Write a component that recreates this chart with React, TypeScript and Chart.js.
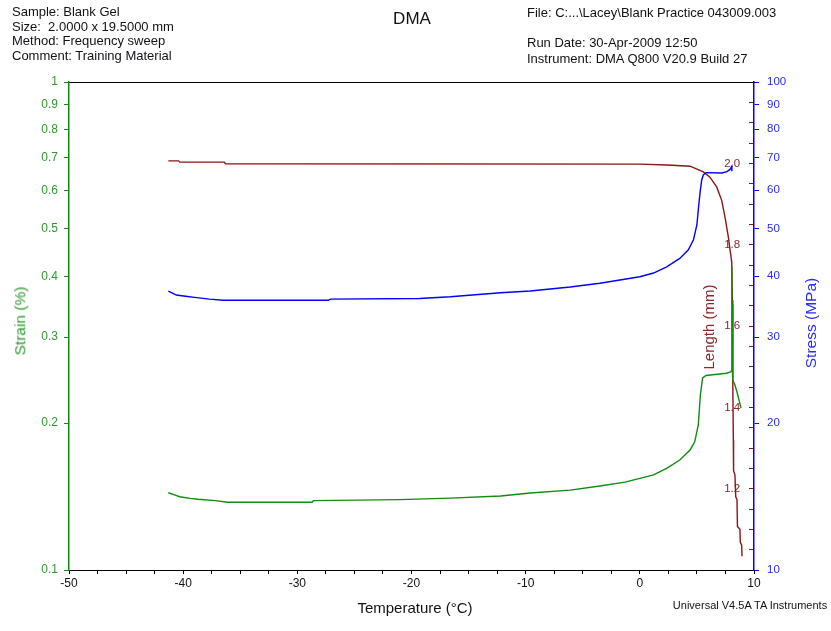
import React, { useEffect, useRef } from 'react';
import { Chart, registerables } from 'chart.js';

Chart.register(...registerables);

const FONT = '"Liberation Sans", Arial, Helvetica, sans-serif';
const GREEN = '#108c10';
const GREEN_TEXT = '#2f9a2f';
const BLUE = '#0000ff';
const BLUE_TEXT = '#2b2bff';
const RED = '#8c1515';
const RED_TEXT = '#8c2a2a';
const DARK = '#111118';

// Strain (%) against temperature (°C)
const strainTemp = [
  -41.3, -40.7, -40.3, -39.4, -38.7, -37.2, -36.1, -28.7, -28.6, -21.0, -16.6, -12.2, -9.6, -6.1,
  -3.5, -1.3, 0.0, 1.2, 2.35, 3.5, 4.4, 4.8, 5.12, 5.3, 5.5, 5.8, 7.6, 7.95, 8.03, 8.06, 8.09,
  8.12, 8.16, 8.33, 8.51, 8.68, 8.86,
];
const strainValues = [
  0.144, 0.1424, 0.1413, 0.1402, 0.1396, 0.1387, 0.1377, 0.1377, 0.1387, 0.1394, 0.1404, 0.1418,
  0.1438, 0.1458, 0.1486, 0.1514, 0.1541, 0.1566, 0.1616, 0.168, 0.1762, 0.1829, 0.1982, 0.2284,
  0.2475, 0.2504, 0.253, 0.2545, 0.256, 0.418, 0.26, 0.35, 0.245, 0.2394, 0.2316, 0.2231, 0.2148,
];

// Stress (MPa) against temperature (°C)
const stressTemp = [
  -41.3, -40.6, -39.8, -39.0, -37.7, -36.5, -27.3, -27.1, -19.3, -16.6, -12.2, -9.6, -6.1, -3.5,
  0.0, 1.2, 2.35, 3.5, 4.25, 4.7, 5.0, 5.12, 5.27, 5.42, 5.56, 5.8, 7.2, 7.63, 7.9, 8.05, 8.06,
];
const stressValues = [
  37.3, 36.6, 36.4, 36.2, 35.9, 35.7, 35.7, 35.9, 36.0, 36.3, 37.0, 37.3, 38.0, 38.7, 39.9, 40.6,
  41.8, 43.5, 45.3, 47.5, 51.0, 54.7, 59.2, 63.0, 64.5, 65.2, 65.1, 65.5, 66.2, 67.1, 65.6,
];

// Sample length (mm) against temperature (°C)
const lengthTemp = [
  -41.3, -40.4, -40.3, -36.4, -36.3, 0.0, 2.4, 4.4, 5.56, 6.14, 6.73, 7.17, 7.46, 7.75, 7.9, 8.05,
  8.1, 8.14, 8.19, 8.21, 8.33, 8.4, 8.51, 8.55, 8.77, 8.8, 8.92, 8.95,
];
const lengthValues = [
  2.006, 2.006, 2.003, 2.003, 1.999, 1.998, 1.996, 1.993, 1.979, 1.966, 1.942, 1.909, 1.868, 1.819,
  1.787, 1.757, 1.664, 1.467, 1.32, 1.244, 1.234, 1.18, 1.173, 1.107, 1.1, 1.068, 1.061, 1.034,
];

// Axis ticks
const tempTicks = [
  -50, -47.5, -45, -42.5, -40, -37.5, -35, -32.5, -30, -27.5, -25, -22.5, -20, -17.5, -15, -12.5,
  -10, -7.5, -5, -2.5, 0, 2.5, 5, 7.5, 10,
];
const tempLabels = [-50, -40, -30, -20, -10, 0, 10];
const strainTicks = [0.1, 0.2, 0.3, 0.4, 0.5, 0.6, 0.7, 0.8, 0.9, 1];
const stressTicks = [10, 20, 30, 40, 50, 60, 70, 80, 90, 100];
const lengthTicks = [
  1.0, 1.05, 1.1, 1.15, 1.2, 1.25, 1.3, 1.35, 1.4, 1.45, 1.5, 1.55, 1.6, 1.65, 1.7, 1.75, 1.8,
  1.85, 1.9, 1.95, 2.0, 2.05, 2.1, 2.15, 2.2,
];
const lengthLabels = [1.2, 1.4, 1.6, 1.8, 2.0];

const headerLeft = [
  'Sample: Blank Gel',
  'Size:  2.0000 x 19.5000 mm',
  'Method: Frequency sweep',
  'Comment: Training Material',
];
const headerRight = [
  'File: C:...\\Lacey\\Blank Practice 043009.003',
  '',
  'Run Date: 30-Apr-2009 12:50',
  'Instrument: DMA Q800 V20.9 Build 27',
];

// the inner length axis sits on the right frame edge; its labels are right-aligned
// to that edge, so a trailing em space keeps them clear of the tick marks
const LABEL_GAP = '\u2003\u2009';

const toPoints = (xs: number[], ys: number[]) => xs.map((x, i) => ({ x, y: ys[i] }));
const setTicks = (values: number[]) => (scale: any) => {
  scale.ticks = values.map((value) => ({ value }));
};

type TextProps = {
  x: number;
  y: number;
  text: string;
  size: number;
  color: string;
  rotate?: boolean;
  center?: boolean;
};

function Text({ x, y, text, size, color, rotate, center }: TextProps) {
  const transform = rotate
    ? 'translate(-50%, -50%) rotate(-90deg)'
    : center
    ? 'translate(-50%, -50%)'
    : 'translateY(-50%)';
  return (
    <div
      style={{
        position: 'absolute',
        left: x,
        top: y,
        transform,
        fontSize: size,
        lineHeight: 1,
        color,
        whiteSpace: 'pre',
        fontFamily: FONT,
        pointerEvents: 'none',
      }}
    >
      {text}
    </div>
  );
}

export default function App() {
  const canvasRef = useRef<HTMLCanvasElement>(null);

  useEffect(() => {
    const canvas = canvasRef.current;
    if (!canvas) return;
    const tickFont = { family: FONT, size: 11.5 };
    const line = { showLine: true, pointRadius: 0, borderWidth: 1.4, fill: false, tension: 0 };

    const chart = new Chart(canvas, {
      type: 'scatter',
      data: {
        datasets: [
          {
            label: 'Stress',
            data: toPoints(stressTemp, stressValues),
            yAxisID: 'yStress',
            borderColor: BLUE,
            backgroundColor: BLUE,
            ...line,
          },
          {
            label: 'Strain',
            data: toPoints(strainTemp, strainValues),
            yAxisID: 'y',
            borderColor: GREEN,
            backgroundColor: GREEN,
            ...line,
          },
          {
            label: 'Length',
            data: toPoints(lengthTemp, lengthValues),
            yAxisID: 'yLength',
            borderColor: RED,
            backgroundColor: RED,
            ...line,
          },
        ],
      },
      options: {
        responsive: false,
        animation: false,
        devicePixelRatio: 1,
        layout: { padding: 0 },
        plugins: {
          legend: { display: false },
          tooltip: { enabled: false },
          title: { display: false },
        },
        scales: {
          x: {
            type: 'linear',
            position: 'bottom',
            min: -50,
            max: 10,
            afterBuildTicks: setTicks(tempTicks),
            afterFit: (s: any) => {
              s.height = 61;
            },
            ticks: {
              autoSkip: false,
              maxRotation: 0,
              padding: 2,
              color: DARK,
              font: { family: FONT, size: 12 },
              callback: (v: any) => (tempLabels.includes(Number(v)) ? String(v) : ''),
            },
            grid: { drawOnChartArea: false, tickLength: 4, tickColor: '#000' },
            border: { display: true, color: '#000', width: 1 },
          },
          xTop: {
            type: 'linear',
            axis: 'x',
            position: 'top',
            min: -50,
            max: 10,
            afterFit: (s: any) => {
              s.height = 82;
            },
            ticks: { display: false },
            grid: { display: false, drawTicks: false },
            border: { display: true, color: '#000', width: 1 },
          },
          y: {
            type: 'logarithmic',
            position: 'left',
            min: 0.1,
            max: 1,
            afterBuildTicks: setTicks(strainTicks),
            afterFit: (s: any) => {
              s.width = 69;
            },
            ticks: {
              autoSkip: false,
              padding: 6,
              color: GREEN_TEXT,
              font: { family: FONT, size: 12 },
              callback: (v: any) => String(v),
            },
            grid: { drawOnChartArea: false, tickLength: 5, tickColor: GREEN },
            border: { display: true, color: GREEN, width: 1.5 },
          },
          yStress: {
            type: 'logarithmic',
            position: 'right',
            min: 10,
            max: 100,
            afterBuildTicks: setTicks(stressTicks),
            afterFit: (s: any) => {
              s.width = 77;
            },
            ticks: {
              autoSkip: false,
              padding: 8,
              color: BLUE_TEXT,
              font: tickFont,
              callback: (v: any) => String(v),
            },
            grid: { drawOnChartArea: false, tickLength: 5, tickColor: BLUE },
            border: { display: true, color: BLUE, width: 1.5 },
          },
          yLength: {
            type: 'linear',
            axis: 'y',
            position: { x: 10 },
            min: 1.0,
            max: 2.2,
            afterBuildTicks: setTicks(lengthTicks),
            ticks: {
              autoSkip: false,
              color: RED_TEXT,
              font: tickFont,
              callback: (v: any) =>
                lengthLabels.includes(Number(v)) ? Number(v).toFixed(1) + LABEL_GAP : '',
            },
            grid: { drawOnChartArea: false, tickLength: 5, tickColor: RED },
            border: { display: false },
          },
        } as any,
      },
    });

    return () => chart.destroy();
  }, []);

  return (
    <div
      style={{
        position: 'absolute',
        left: 0,
        top: 0,
        width: 831,
        height: 631,
        background: '#ffffff',
        overflow: 'hidden',
      }}
    >
      <canvas
        ref={canvasRef}
        width={831}
        height={631}
        style={{ display: 'block', position: 'absolute', left: 0, top: 0 }}
      />
      {headerLeft.map((t, i) => (
        <Text key={'l' + i} x={12} y={11 + i * 14.7} text={t} size={13} color={DARK} />
      ))}
      {headerRight.map((t, i) => (
        <Text key={'r' + i} x={527} y={11.5 + i * 15.4} text={t} size={13} color={DARK} />
      ))}
      <Text x={412} y={18} text="DMA" size={17} color={DARK} center />
      <Text x={20} y={321} text="Strain (%)" size={15.5} color={GREEN_TEXT} rotate />
      <Text x={811} y={323} text="Stress (MPa)" size={15.5} color={BLUE_TEXT} rotate />
      <Text x={708} y={327} text="Length (mm)" size={15} color={RED_TEXT} rotate />
      <Text x={415} y={607} text="Temperature (°C)" size={15} color={DARK} center />
      <Text x={750} y={605} text="Universal V4.5A TA Instruments" size={11} color={DARK} center />
    </div>
  );
}
